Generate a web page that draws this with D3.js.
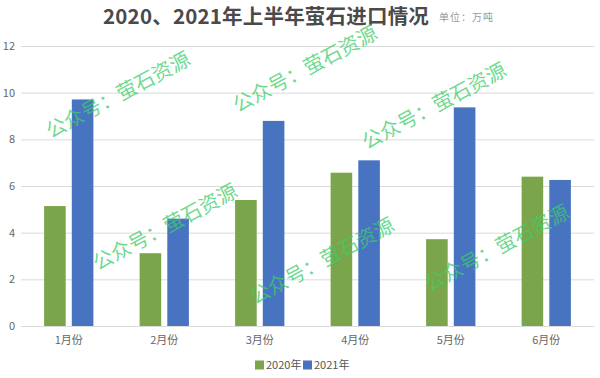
<!DOCTYPE html>
<html><head><meta charset="utf-8">
<script src="https://cdn.jsdelivr.net/npm/d3@7"></script>
<style>body{margin:0;background:#fff}svg{display:block}</style>
</head><body>
<svg id="c" width="600" height="378"></svg>
<script>
const months = ["1月份","2月份","3月份","4月份","5月份","6月份"];
const seriesNames = ["2020年","2021年"];
const values2020 = [5.14, 3.12, 5.4, 6.57, 3.72, 6.4];
const values2021 = [9.71, 4.6, 8.79, 7.1, 9.37, 6.26];
const yTicks = [0,2,4,6,8,10,12];
const colors = ["#7aa54a","#4873c1"];
const watermarkText = "公众号：萤石资源";
const watermarkCenters = [[118,95],[305,69],[434,106],[165,227],[322,261],[497,248]];

(function(){
const svg = d3.select("#c");
const font = "'Noto Sans CJK SC','Noto Sans',sans-serif";
const plotLeft = 21, plotRight = 594, plotTop = 46, plotBottom = 326;

const y = d3.scaleLinear().domain([0,12]).range([plotBottom, plotTop]);
const x0 = d3.scaleBand().domain(months).range([plotLeft,plotRight]).paddingInner(0.484).paddingOuter(0.242);
const x1 = d3.scaleBand().domain(seriesNames).range([0,x0.bandwidth()]).paddingInner(0.22);

// gridlines
const yAxis = d3.axisLeft(y).tickValues(yTicks).tickSize(-(plotRight-plotLeft)).tickFormat(d3.format("d"));
const gy = svg.append("g").attr("transform",`translate(${plotLeft},0)`).call(yAxis);
gy.select(".domain").remove();
gy.selectAll(".tick line").attr("stroke","#dadada").attr("stroke-width",1);
gy.selectAll(".tick text").attr("x",-6).attr("fill","#666").style("font-family",font).style("font-size","11px");

// bars
const data = months.map((m,i)=>({m, vals:[values2020[i], values2021[i]]}));
const g = svg.append("g");
data.forEach(d=>{
  d.vals.forEach((v,j)=>{
    g.append("rect")
      .attr("x", x0(d.m)+x1(seriesNames[j]))
      .attr("y", y(v))
      .attr("width", x1.bandwidth())
      .attr("height", y(0)-y(v))
      .attr("fill", colors[j]);
  });
});

// x axis labels
const xAxis = d3.axisBottom(x0).tickSize(0).tickPadding(10);
const gx = svg.append("g").attr("transform",`translate(0,${plotBottom})`).call(xAxis);
gx.select(".domain").remove();
gx.selectAll(".tick text").attr("fill","#666").style("font-family",font).style("font-size","11px");

// title
svg.append("text").attr("x",103).attr("y",24).text("2020、2021年上半年萤石进口情况")
  .attr("fill","#4a4a4a").style("font-family",font).style("font-size","20.5px").style("font-weight","bold")
  .style("letter-spacing","0.2px");
svg.append("text").attr("x",439).attr("y",21).text("单位：万吨")
  .attr("fill","#999").style("font-family",font).style("font-size","10px").style("letter-spacing","1px");

// legend
const lg = svg.append("g").attr("transform","translate(255,365)");
const legendItems = [{n:seriesNames[0],c:colors[0],x:0},{n:seriesNames[1],c:colors[1],x:48}];
legendItems.forEach(it=>{
  lg.append("rect").attr("x",it.x).attr("y",-4.5).attr("width",9).attr("height",9).attr("fill",it.c);
  lg.append("text").attr("x",it.x+11).attr("y",4).text(it.n).attr("fill","#555")
    .style("font-family",font).style("font-size","11px");
});

// watermarks
watermarkCenters.forEach(([cx,cy])=>{
  svg.append("text").attr("transform",`translate(${cx},${cy}) rotate(-28)`)
    .attr("text-anchor","middle").attr("dy","0.35em").text(watermarkText)
    .attr("fill","rgba(60,205,105,0.75)").style("font-family",font).style("font-size","20px");
});
})();
</script>
</body></html>
